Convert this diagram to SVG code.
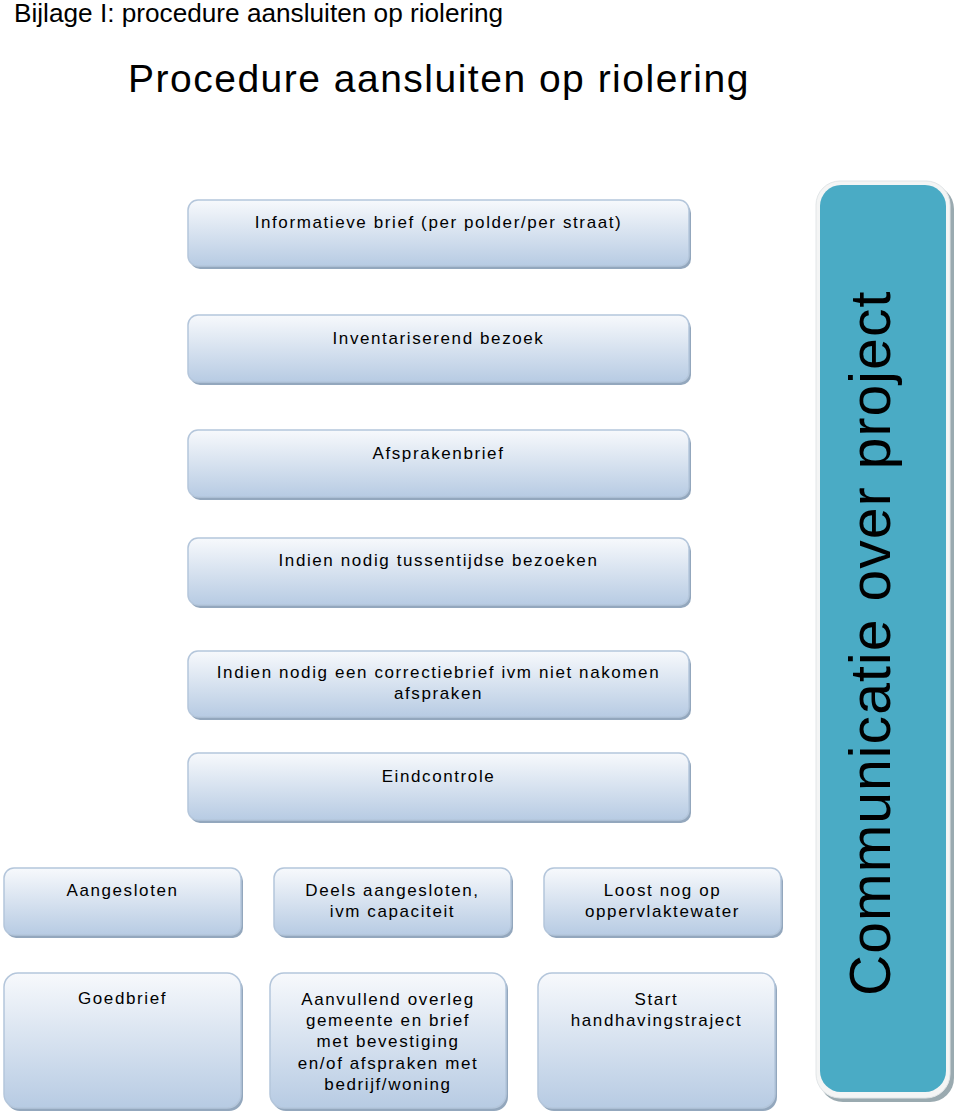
<svg xmlns="http://www.w3.org/2000/svg" width="960" height="1115" viewBox="0 0 960 1115">
<defs>
<linearGradient id="g" x1="0" y1="0" x2="0" y2="1">
<stop offset="0" stop-color="#f7f9fc"/>
<stop offset="1" stop-color="#b7cbe3"/>
</linearGradient>
<style>
.sh{fill:#93a7bd}
.bx{fill:url(#g);stroke:#b4c6db;stroke-width:1.5}
.t{font-family:"Liberation Sans",Arial,sans-serif;font-size:17px;letter-spacing:1.6px;fill:#000;text-anchor:middle}
.h1{font-family:"Liberation Sans",Arial,sans-serif;font-size:26.2px;fill:#000}
.h2{font-family:"Liberation Sans",Arial,sans-serif;font-size:39px;letter-spacing:1.5px;fill:#000}
</style>
</defs>
<rect width="960" height="1115" fill="#fff"/>
<text class="h1" x="14" y="22">Bijlage I: procedure aansluiten op riolering</text>
<text class="h2" x="128" y="92">Procedure aansluiten op riolering</text>

<g id="n1"><rect class="sh" x="190" y="203" width="501" height="66" rx="10"/><rect class="bx" x="188" y="200" width="501" height="66" rx="10"/><text class="t" x="438.5" y="228">Informatieve brief (per polder/per straat)</text></g>
<g id="n2"><rect class="sh" x="190" y="318" width="501" height="67" rx="10"/><rect class="bx" x="188" y="315" width="501" height="67" rx="10"/><text class="t" x="438.5" y="344">Inventariserend bezoek</text></g>
<g id="n3"><rect class="sh" x="190" y="433" width="501" height="67" rx="10"/><rect class="bx" x="188" y="430" width="501" height="67" rx="10"/><text class="t" x="438.5" y="459">Afsprakenbrief</text></g>
<g id="n4"><rect class="sh" x="190" y="541" width="501" height="67" rx="10"/><rect class="bx" x="188" y="538" width="501" height="67" rx="10"/><text class="t" x="438.5" y="566">Indien nodig tussentijdse bezoeken</text></g>
<g id="n5"><rect class="sh" x="190" y="654" width="501" height="66" rx="10"/><rect class="bx" x="188" y="651" width="501" height="66" rx="10"/><text class="t" x="438.5" y="678">Indien nodig een correctiebrief ivm niet nakomen</text><text class="t" x="438.5" y="699">afspraken</text></g>
<g id="n6"><rect class="sh" x="190" y="756" width="501" height="67" rx="10"/><rect class="bx" x="188" y="753" width="501" height="67" rx="10"/><text class="t" x="438.5" y="782">Eindcontrole</text></g>

<g id="n7"><rect class="sh" x="6" y="871" width="237" height="67" rx="10"/><rect class="bx" x="4" y="868" width="237" height="67" rx="10"/><text class="t" x="122.5" y="896">Aangesloten</text></g>
<g id="n8"><rect class="sh" x="276" y="871" width="237" height="67" rx="10"/><rect class="bx" x="274" y="868" width="237" height="67" rx="10"/><text class="t" x="392.5" y="896">Deels aangesloten,</text><text class="t" x="392.5" y="917">ivm capaciteit</text></g>
<g id="n9"><rect class="sh" x="546" y="871" width="237" height="67" rx="10"/><rect class="bx" x="544" y="868" width="237" height="67" rx="10"/><text class="t" x="662.5" y="896">Loost nog op</text><text class="t" x="662.5" y="917">oppervlaktewater</text></g>

<g id="n10"><rect class="sh" x="6" y="976" width="237" height="135" rx="14"/><rect class="bx" x="4" y="973" width="237" height="135" rx="14"/><text class="t" x="122.5" y="1004">Goedbrief</text></g>
<g id="n11"><rect class="sh" x="272" y="976" width="236" height="135" rx="14"/><rect class="bx" x="270" y="973" width="236" height="135" rx="14"/><text class="t" x="388" y="1005">Aanvullend overleg</text><text class="t" x="388" y="1026">gemeente en brief</text><text class="t" x="388" y="1047">met bevestiging</text><text class="t" x="388" y="1069">en/of afspraken met</text><text class="t" x="388" y="1090">bedrijf/woning</text></g>
<g id="n12"><rect class="sh" x="540" y="976" width="237" height="135" rx="14"/><rect class="bx" x="538" y="973" width="237" height="135" rx="14"/><text class="t" x="656.5" y="1005">Start</text><text class="t" x="656.5" y="1026">handhavingstraject</text></g>

<g id="n13">
<rect x="819" y="185" width="135" height="917" rx="24" fill="#9aaab0"/>
<rect x="816" y="181" width="134" height="917" rx="24" fill="#f4f5f5" stroke="#e2e6e8" stroke-width="1"/>
<rect x="820" y="185" width="126" height="907" rx="21" fill="#4aabc5"/>
<text transform="translate(890,996) rotate(-90)" font-family="'Liberation Sans',Arial,sans-serif" font-size="57" letter-spacing="1.1" fill="#000">Communicatie over project</text>
</g>
</svg>
